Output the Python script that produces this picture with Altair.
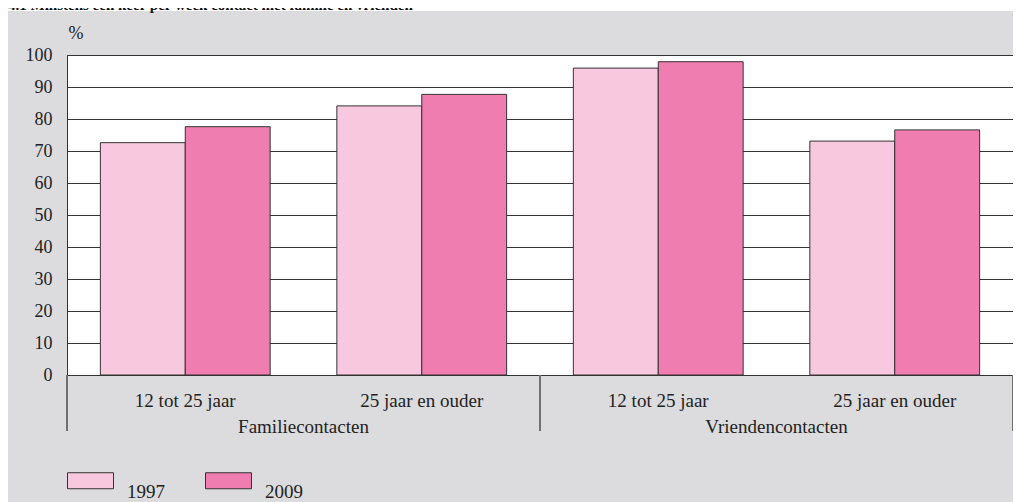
import altair as alt
import pandas as pd

# ---- data ----
groups = ["Familiecontacten", "Familiecontacten", "Vriendencontacten", "Vriendencontacten"]
ages = ["12 tot 25 jaar", "25 jaar en ouder", "12 tot 25 jaar", "25 jaar en ouder"]
years = ["1997", "2009"]
v1997 = [72.6, 84.1, 95.9, 73.1]
v2009 = [77.6, 87.7, 97.9, 76.6]
colors = ["#f8c9de", "#f07db0"]
group_names = ["Familiecontacten", "Vriendencontacten"]
title_text = "4.1 Minstens een keer per week contact met familie en vrienden"

cats = [f"{g} | {a}" for g, a in zip(groups, ages)]
rows = []
for c, g, a, a97, a09 in zip(cats, groups, ages, v1997, v2009):
    rows.append({"cat": c, "group": g, "age": a, "year": "1997", "value": a97})
    rows.append({"cat": c, "group": g, "age": a, "year": "2009", "value": a09})
df = pd.DataFrame(rows)
cat_df = pd.DataFrame({"cat": cats, "age": ages})
grp_df = pd.DataFrame({"group": group_names})
sep_df = pd.DataFrame({"pos": [0, 1, 2]})
title_df = pd.DataFrame({"t": [title_text]})

W, H = 946, 320
FONT = "Liberation Serif"

xscale = alt.Scale(domain=cats, paddingInner=0.282, paddingOuter=0.141, round=False)

legend_path = "M-1,-0.826L1,-0.826L1,-0.13L-1,-0.13Z"

bars = alt.Chart(df).mark_bar(stroke="#333333", strokeWidth=1, opacity=1).encode(
    x=alt.X("cat:N", sort=cats, scale=xscale, axis=None),
    xOffset=alt.XOffset("year:N", sort=years,
                        scale=alt.Scale(domain=years, paddingInner=0, paddingOuter=0,
                                        round=False)),
    y=alt.Y("value:Q", scale=alt.Scale(domain=[0, 100], nice=False),
            axis=alt.Axis(values=list(range(0, 101, 10)), ticks=False, domain=False,
                          grid=True, gridColor="#333333", gridWidth=1, gridOpacity=1,
                          labelFont=FONT, labelFontSize=18, labelColor="#222222",
                          labelPadding=15, title="%", titleAngle=0, titleFont=FONT,
                          titleFontSize=18, titleFontWeight="normal", titleColor="#222222",
                          titleAlign="left", titleBaseline="alphabetic",
                          titleX=1, titleY=-17)),
    fill=alt.Fill("year:N", sort=years,
                  scale=alt.Scale(domain=years, range=colors),
                  legend=alt.Legend(orient="none", legendX=0, legendY=413,
                                    direction="horizontal", title=None,
                                    symbolType=legend_path, symbolSize=2116,
                                    symbolStrokeColor="#333333", symbolStrokeWidth=1,
                                    symbolOpacity=1,
                                    labelFont=FONT, labelFontSize=19, labelColor="#222222",
                                    labelOffset=13, columnPadding=38)),
)

cat_labels = alt.Chart(cat_df).mark_text(
    font=FONT, fontSize=19, color="#222222", baseline="alphabetic", align="center"
).encode(
    x=alt.X("cat:N", sort=cats, scale=xscale, axis=None),
    y=alt.value(H + 31.5),
    text="age:N",
)

grp_labels = alt.Chart(grp_df).mark_text(
    font=FONT, fontSize=19, color="#222222", baseline="alphabetic", align="center"
).encode(
    x=alt.X("group:N", sort=group_names,
            scale=alt.Scale(domain=group_names, paddingInner=0, paddingOuter=0,
                            round=False), axis=None),
    y=alt.value(H + 58),
    text="group:N",
)

seps = alt.Chart(sep_df).mark_rule(color="#707070", strokeWidth=2).encode(
    x=alt.X("pos:Q", scale=alt.Scale(domain=[0, 2], nice=False, zero=False), axis=None),
    y=alt.value(H),
    y2=alt.value(H + 56),
)

top_strip = alt.Chart(title_df).mark_rect(color="white").encode(
    x=alt.value(-59), x2=alt.value(W), y=alt.value(-47), y2=alt.value(-44)
)
title = alt.Chart(title_df).mark_text(
    font=FONT, fontSize=15, fontWeight="bold", color="#111111",
    align="left", baseline="alphabetic"
).encode(x=alt.value(-59), y=alt.value(-45), text="t:N")

chart = alt.layer(bars, cat_labels, grp_labels, seps, top_strip, title).resolve_scale(
    x="independent"
).properties(
    width=W, height=H,
    autosize=alt.AutoSizeParams(type="none"),
    padding={"left": 59, "top": 47, "right": 0, "bottom": 127},
    background="#dcdcde",
).configure_view(
    stroke="#333333", strokeWidth=1, fill="white"
)

chart.save("out.html", embed_options={"renderer": "svg", "actions": False})
